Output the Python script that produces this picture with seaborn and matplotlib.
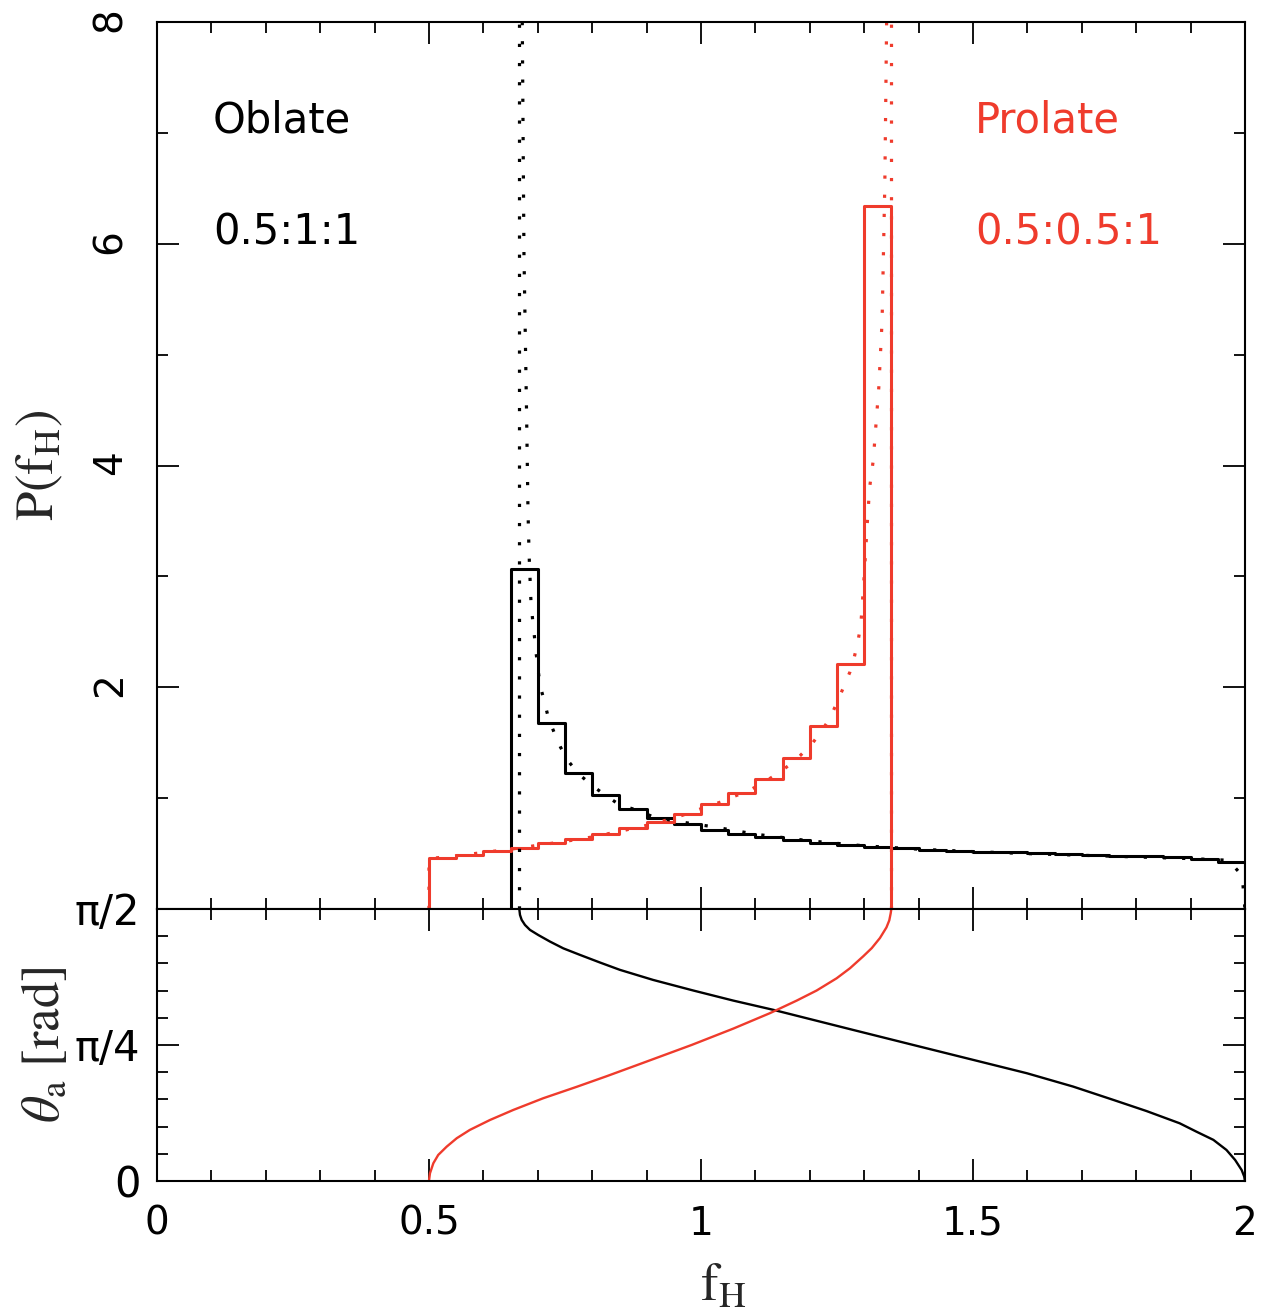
import numpy as np
import matplotlib

matplotlib.use("Agg")
import matplotlib.pyplot as plt
import seaborn as sns
from matplotlib.ticker import FixedLocator, MultipleLocator, NullFormatter

# --- histogram data (bin edges, heights) ---
oblate_edges = [0.65, 0.70, 0.75, 0.80, 0.85, 0.90, 0.95, 1.00, 1.05, 1.10,
                1.15, 1.20, 1.25, 1.30, 1.35, 1.40, 1.45, 1.50, 1.55, 1.60,
                1.65, 1.70, 1.75, 1.80, 1.85, 1.90, 1.95, 2.00]
oblate_hist = [3.07, 1.68, 1.23, 1.025, 0.905, 0.82, 0.766, 0.714, 0.68, 0.65,
               0.625, 0.60, 0.58, 0.562, 0.547, 0.535, 0.527, 0.518, 0.51, 0.502,
               0.495, 0.488, 0.481, 0.475, 0.468, 0.455, 0.427]

prolate_edges = [0.50, 0.55, 0.60, 0.65, 0.70, 0.75, 0.80, 0.85, 0.90, 0.95,
                 1.00, 1.05, 1.10, 1.15, 1.20, 1.25, 1.30, 1.35]
prolate_hist = [0.457, 0.488, 0.523, 0.555, 0.592, 0.628, 0.68, 0.733, 0.787, 0.86,
                0.943, 1.043, 1.172, 1.36, 1.647, 2.21, 6.34]

# --- analytic curves (dotted) ---
oblate_curve_f = [0.6715, 0.6746, 0.6796, 0.682, 0.684, 0.6875, 0.6906, 0.6936, 0.6967,
                  0.704, 0.712, 0.719, 0.730, 0.742, 0.757, 0.7776, 0.799, 0.8235,
                  0.851, 0.882, 0.912, 0.961, 1.025, 1.10, 1.20, 1.30, 1.40, 1.50,
                  1.60, 1.70, 1.80, 1.90, 1.97, 1.995, 2.0]
oblate_curve_p = [8.0, 5.91, 4.41, 3.6, 3.2, 2.77, 2.606, 2.47, 2.32,
                  2.02, 1.875, 1.734, 1.593, 1.458, 1.328, 1.208, 1.118, 1.028,
                  0.938, 0.893, 0.832, 0.787, 0.74, 0.675, 0.615, 0.57, 0.54, 0.518,
                  0.50, 0.485, 0.47, 0.455, 0.44, 0.30, 0.0]
oblate_limit_f = [0.666, 0.666]
oblate_limit_p = [0.0, 8.0]

prolate_curve_f = [0.50, 0.50, 0.55, 0.60, 0.65, 0.70, 0.75, 0.80, 0.85, 0.90, 0.95,
                   0.98, 1.007, 1.038, 1.059, 1.087, 1.1115, 1.139, 1.1605, 1.182,
                   1.2047, 1.222, 1.238, 1.262, 1.274, 1.282, 1.289, 1.294, 1.300,
                   1.306, 1.310, 1.3168, 1.320, 1.327, 1.333, 1.338, 1.3413]
prolate_curve_p = [0.0, 0.455, 0.48, 0.51, 0.54, 0.575, 0.61, 0.65, 0.70, 0.755, 0.82,
                   0.869, 0.917, 0.968, 1.013, 1.064, 1.133, 1.214, 1.292, 1.382,
                   1.494, 1.608, 1.728, 1.999, 2.14, 2.275, 2.425, 2.57, 3.0,
                   3.5, 3.8, 4.05, 4.26, 4.71, 5.31, 6.54, 8.0]
prolate_limit_f = [1.35, 1.35]
prolate_limit_p = [0.0, 8.0]

# --- theta_a vs f_H (lower panel), theta as fraction of pi/2 ---
oblate_theta_f = [0.666, 0.6673, 0.6704, 0.6765, 0.6857, 0.701, 0.7224, 0.747, 0.7776,
                  0.8143, 0.851, 0.912, 0.986, 1.0594, 1.133, 1.2065, 1.280, 1.366,
                  1.39, 1.4945, 1.599, 1.684, 1.758, 1.819, 1.880, 1.911, 1.942,
                  1.966, 1.982, 1.994, 1.9987, 2.0]
oblate_theta_frac = [1.0, 0.978, 0.9596, 0.941, 0.9228, 0.904, 0.880, 0.855, 0.831,
                     0.803, 0.776, 0.739, 0.700, 0.663, 0.629, 0.592, 0.555, 0.512,
                     0.50, 0.448, 0.396, 0.347, 0.298, 0.257, 0.212, 0.181, 0.151,
                     0.114, 0.077, 0.040, 0.016, 0.0]

prolate_theta_f = [0.5, 0.5018, 0.508, 0.517, 0.5325, 0.551, 0.575, 0.612, 0.655,
                   0.710, 0.7715, 0.8266, 0.888, 0.983, 1.0594, 1.127, 1.176, 1.2126,
                   1.2494, 1.274, 1.2984, 1.314, 1.329, 1.341, 1.3462, 1.3487, 1.35]
prolate_theta_frac = [0.0, 0.028, 0.065, 0.0956, 0.126, 0.157, 0.1875, 0.224, 0.261,
                      0.304, 0.346, 0.385, 0.430, 0.500, 0.560, 0.617, 0.663, 0.700,
                      0.745, 0.782, 0.826, 0.856, 0.893, 0.932, 0.958, 0.983, 1.0]

RED = "#ef3b2c"
BLACK = "black"


def step_outline(edges, heights):
    xs, ys = [edges[0]], [0.0]
    for i, h in enumerate(heights):
        xs += [edges[i], edges[i + 1]]
        ys += [h, h]
    xs.append(edges[-1])
    ys.append(0.0)
    return xs, ys


def style_axis(ax):
    for sp in ax.spines.values():
        sp.set_linewidth(1.5)
        sp.set_color("black")
    ax.tick_params(which="both", direction="in", top=True, right=True,
                   width=1.3, colors="black", labelsize=28)
    ax.tick_params(which="major", length=16)
    ax.tick_params(which="minor", length=8)


sns.set_theme(style="ticks")
plt.rcParams["font.family"] = ["DejaVu Sans"]
plt.rcParams["mathtext.fontset"] = "stix"

fig = plt.figure(figsize=(12.63, 13.11), dpi=100)
ax_top = fig.add_axes([0.1243, 0.3066, 0.8614, 0.6766])
ax_bot = fig.add_axes([0.1243, 0.0992, 0.8614, 0.2075])

# upper panel: histograms
hx, hy = step_outline(oblate_edges, oblate_hist)
sns.lineplot(x=hx, y=hy, ax=ax_top, sort=False, estimator=None, color=BLACK, lw=2.2)
hx, hy = step_outline(prolate_edges, prolate_hist)
sns.lineplot(x=hx, y=hy, ax=ax_top, sort=False, estimator=None, color=RED, lw=2.2)

dot = (0, (1, 5))
for fx, py, c in [(oblate_curve_f, oblate_curve_p, BLACK),
                  (oblate_limit_f, oblate_limit_p, BLACK),
                  (prolate_curve_f, prolate_curve_p, RED),
                  (prolate_limit_f, prolate_limit_p, RED)]:
    sns.lineplot(x=fx, y=py, ax=ax_top, sort=False, estimator=None,
                 color=c, lw=2.3, linestyle=dot)

ax_top.set_xlim(0, 2)
ax_top.set_ylim(0, 8)
style_axis(ax_top)
ax_top.xaxis.set_major_locator(MultipleLocator(0.5))
ax_top.xaxis.set_minor_locator(MultipleLocator(0.1))
ax_top.xaxis.set_major_formatter(NullFormatter())
ax_top.yaxis.set_major_locator(FixedLocator([0, 2, 4, 6, 8]))
ax_top.yaxis.set_minor_locator(MultipleLocator(1))
ax_top.set_yticklabels(["", "2", "4", "6", "8"])
ax_top.tick_params(axis="y", labelrotation=90, pad=20)
ax_top.set_xlabel("")
ax_top.set_ylabel(r"$\mathrm{P(f_H)}$", fontsize=38)
ax_top.yaxis.set_label_coords(-0.085, 0.5)

ax_top.text(0.103, 7.11, "Oblate", color=BLACK, fontsize=30, va="center", ha="left")
ax_top.text(0.103, 6.10, "0.5:1:1", color=BLACK, fontsize=30, va="center", ha="left")
ax_top.text(1.504, 7.11, "Prolate", color=RED, fontsize=30, va="center", ha="left")
ax_top.text(1.504, 6.10, "0.5:0.5:1", color=RED, fontsize=30, va="center", ha="left")

# lower panel: theta_a vs f_H
half_pi = np.pi / 2
sns.lineplot(x=oblate_theta_f, y=np.array(oblate_theta_frac) * half_pi, ax=ax_bot,
             sort=False, estimator=None, color=BLACK, lw=1.7)
sns.lineplot(x=prolate_theta_f, y=np.array(prolate_theta_frac) * half_pi, ax=ax_bot,
             sort=False, estimator=None, color=RED, lw=1.7)

ax_bot.set_xlim(0, 2)
ax_bot.set_ylim(0, half_pi)
style_axis(ax_bot)
ax_bot.xaxis.set_major_locator(FixedLocator([0, 0.5, 1, 1.5, 2]))
ax_bot.xaxis.set_minor_locator(MultipleLocator(0.1))
ax_bot.set_xticklabels(["0", "0.5", "1", "1.5", "2"])
ax_bot.yaxis.set_major_locator(FixedLocator([0, np.pi / 4, half_pi]))
ax_bot.yaxis.set_minor_locator(MultipleLocator(np.pi / 20))
ax_bot.set_yticklabels(["0", "π/4", "π/2"])
ax_bot.tick_params(axis="x", pad=17)
ax_bot.tick_params(axis="y", pad=12, labelsize=30)
ax_bot.set_xlabel(r"$\mathrm{f_H}$", fontsize=38)
ax_bot.xaxis.set_label_coords(0.52, -0.29)
ax_bot.set_ylabel(r"$\theta_{\rm a}\ \mathrm{[rad]}$", fontsize=38)
ax_bot.yaxis.set_label_coords(-0.08, 0.5)

fig.savefig("out.png", dpi=100, facecolor="white")
plt.close(fig)
